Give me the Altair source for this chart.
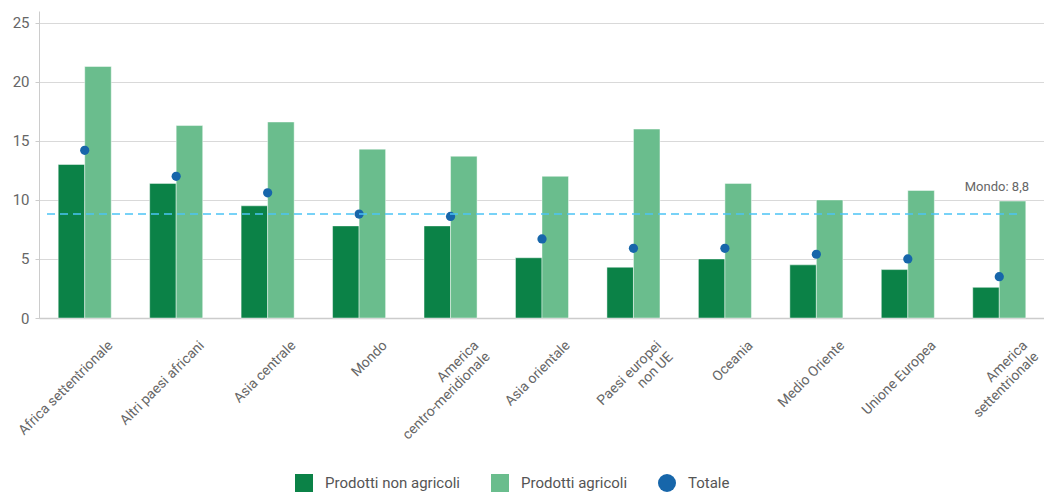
import altair as alt
import pandas as pd

# Regions on the x axis (a newline splits a label over two lines)
categories = [
    "Africa settentrionale",
    "Altri paesi africani",
    "Asia centrale",
    "Mondo",
    "America\ncentro-meridionale",
    "Asia orientale",
    "Paesi europei\nnon UE",
    "Oceania",
    "Medio Oriente",
    "Unione Europea",
    "America\nsettentrionale",
]

# Series values
non_agricoli = [13.0, 11.4, 9.5, 7.8, 7.8, 5.1, 4.3, 5.0, 4.5, 4.1, 2.6]
agricoli = [21.3, 16.3, 16.6, 14.3, 13.7, 12.0, 16.0, 11.4, 10.0, 10.8, 9.9]
totale = [14.2, 12.0, 10.6, 8.8, 8.6, 6.7, 5.9, 5.9, 5.4, 5.0, 3.5]

# World reference value drawn as a dashed line
mondo_totale = 8.8

series_names = ["Prodotti non agricoli", "Prodotti agricoli", "Totale"]
series_colors = ["#0b8247", "#6abd8d", "#1766aa"]
series_shapes = ["square", "square", "circle"]
y_ticks = [0, 5, 10, 15, 20, 25]

bars_df = pd.DataFrame(
    {
        "regione": categories * 2,
        "serie": [series_names[0]] * len(categories) + [series_names[1]] * len(categories),
        "valore": non_agricoli + agricoli,
    }
)
points_df = pd.DataFrame(
    {"regione": categories, "serie": [series_names[2]] * len(categories), "valore": totale}
)
ref_df = pd.DataFrame(
    {"valore": [mondo_totale], "etichetta": ["Mondo: " + f"{mondo_totale:.1f}".replace(".", ",")]}
)

legend = alt.Legend(
    title=None,
    orient="none",
    legendX=256,
    legendY=463,
    direction="horizontal",
    symbolSize=324,
    symbolStrokeWidth=0,
    labelFontSize=15,
    labelColor="#555555",
    labelOffset=12,
    columnPadding=30,
    padding=0,
)

x_enc = alt.X(
    "regione:N",
    sort=categories,
    scale=alt.Scale(paddingInner=0.42, paddingOuter=0.21),
    axis=alt.Axis(
        title=None,
        labelAngle=-45,
        labelAlign="right",
        labelBaseline="top",
        labelExpr="split(datum.label, '\\n')",
        labelFontSize=14,
        labelLineHeight=16,
        labelColor="#666666",
        labelOffset=21,
        labelPadding=20,
        ticks=False,
        grid=False,
        domainColor="#cccccc",
        domainWidth=1.5,
    ),
)
y_enc = alt.Y(
    "valore:Q",
    scale=alt.Scale(domain=[0, 25]),
    axis=alt.Axis(
        title=None,
        values=y_ticks,
        labelFontSize=15,
        labelColor="#666666",
        labelPadding=6,
        tickSize=4,
        tickColor="#cccccc",
        domainColor="#cccccc",
        gridColor="#d9d9d9",
    ),
)
color_enc = alt.Color(
    "serie:N", scale=alt.Scale(domain=series_names, range=series_colors), legend=legend
)

bars = (
    alt.Chart(bars_df)
    .mark_bar(stroke="white", strokeWidth=1, strokeOpacity=0.45)
    .encode(
        x=x_enc,
        xOffset=alt.XOffset(
            "serie:N",
            sort=series_names[:2],
            scale=alt.Scale(paddingInner=0, paddingOuter=0),
        ),
        y=y_enc,
        color=color_enc,
    )
)

points = (
    alt.Chart(points_df)
    .mark_point(filled=True, size=85, opacity=1)
    .encode(
        x=x_enc,
        y=y_enc,
        color=color_enc,
        shape=alt.Shape(
            "serie:N", scale=alt.Scale(domain=series_names, range=series_shapes), legend=legend
        ),
    )
)

rule = (
    alt.Chart(ref_df)
    .mark_rule(color="#4cc4f5", strokeWidth=1.5, strokeDash=[8, 5])
    .encode(y=alt.Y("valore:Q"), x=alt.value(8), x2=alt.value(979))
)

rule_label = (
    alt.Chart(ref_df)
    .mark_text(align="right", baseline="bottom", dy=-20, fontSize=13, color="#666666")
    .encode(y=alt.Y("valore:Q"), x=alt.value(990), text="etichetta:N")
)

chart = (
    alt.layer(bars, points, rule, rule_label)
    .properties(
        width=1006,
        height=307,
        padding={"left": 12, "top": 11, "right": -1, "bottom": 0},
    )
    .configure(font="Roboto")
    .configure_view(stroke=None)
)

chart.save("out.html", embed_options={"renderer": "svg", "actions": False})
